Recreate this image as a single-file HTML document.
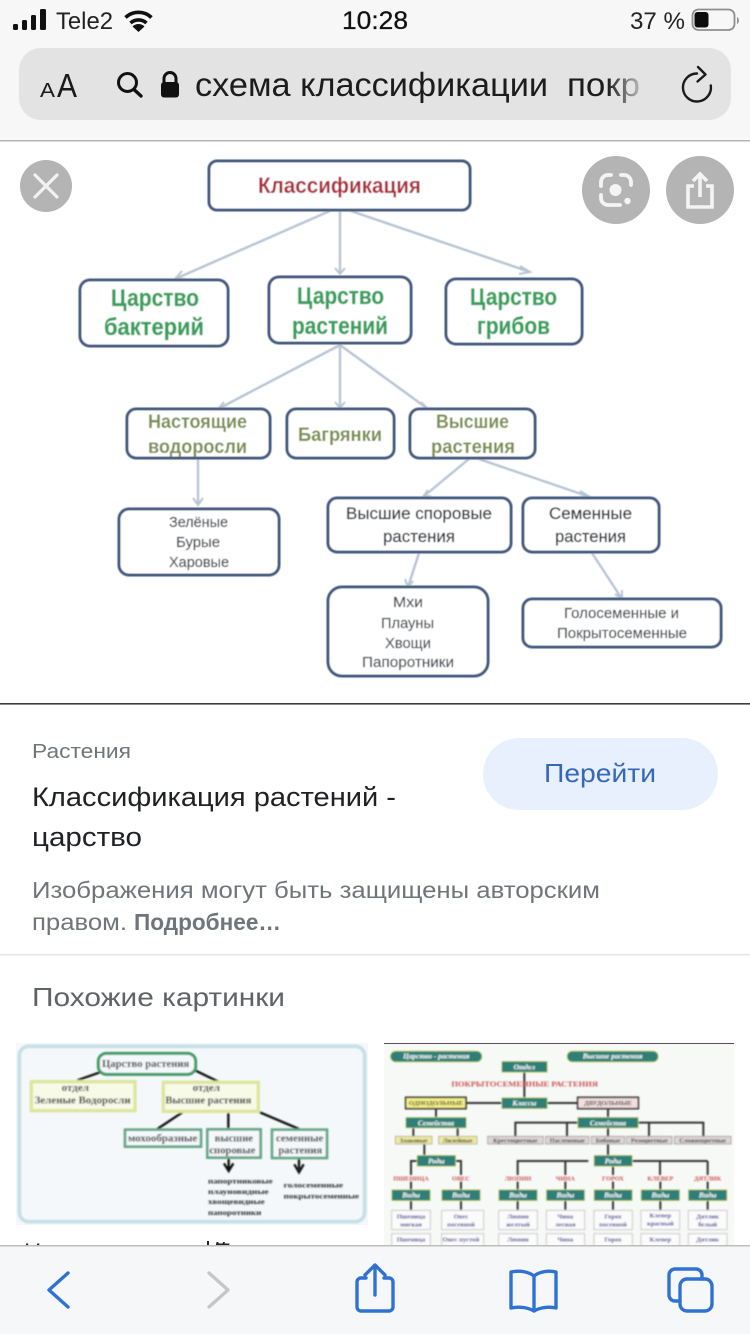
<!DOCTYPE html>
<html><head><meta charset="utf-8"><style>
html,body{margin:0;padding:0;background:#fff;width:750px;height:1334px;overflow:hidden}
svg{display:block;font-family:"Liberation Sans",sans-serif}
</style></head><body>
<svg width="750" height="1334" viewBox="0 0 750 1334" xmlns="http://www.w3.org/2000/svg">
<defs>
<filter id="b1" x="-5%" y="-5%" width="110%" height="110%"><feGaussianBlur stdDeviation="0.6"/></filter>
<filter id="b2" x="-5%" y="-5%" width="110%" height="110%"><feGaussianBlur stdDeviation="2.2"/></filter>
<linearGradient id="fade" x1="0" x2="1" y1="0" y2="0"><stop offset="0.55" stop-color="#1c1c1c"/><stop offset="1" stop-color="#b8b8b8"/></linearGradient>
<clipPath id="cr"><rect x="384" y="1043" width="350" height="202"/></clipPath>
</defs>
<rect width="750" height="1334" fill="#fff"/>

<!-- browser header -->
<rect width="750" height="140" fill="#f7f7f7"/>
<rect y="140" width="750" height="1.5" fill="#b4b4b4"/>
<g fill="#111">
<rect x="13" y="24" width="5" height="6" rx="1.5"/><rect x="22" y="20" width="5" height="10" rx="1.5"/><rect x="31" y="15" width="5" height="15" rx="1.5"/><rect x="40" y="9" width="6" height="21" rx="1.5"/>
<text x="56" y="29" font-size="24" textLength="57" lengthAdjust="spacingAndGlyphs" fill="#222">Tele2</text>
<text x="342" y="29" font-size="25" textLength="66" lengthAdjust="spacingAndGlyphs" stroke="#111" stroke-width=".3">10:28</text>
<text x="630" y="29" font-size="24" textLength="55" lengthAdjust="spacingAndGlyphs" fill="#222">37 %</text>
<path d="M132.500 26.500a8.500 8.500 0 0 1 12 0L138.500 32z"/>
</g>
<g fill="none" stroke="#111" stroke-width="3.600">
<path d="M125.500 17.500a19 19 0 0 1 26 0"/><path d="M130.500 23a12 12 0 0 1 16 0"/>
</g>
<rect x="692.500" y="9.500" width="42" height="20.500" rx="6" fill="none" stroke="#8e8e8e" stroke-width="1.800"/>
<rect x="694.500" y="12" width="14" height="15.500" rx="3" fill="#0c0c0c"/>
<path d="M737 17c2.500 1 2.500 6 0 7z" fill="#8e8e8e"/>

<rect x="19" y="48" width="712" height="72" rx="22" fill="#e3e3e3"/>
<text x="40" y="97" font-size="20" textLength="15" lengthAdjust="spacingAndGlyphs" fill="#1a1a1a">A</text>
<text x="57" y="97" font-size="33" textLength="20" lengthAdjust="spacingAndGlyphs" fill="#1a1a1a">A</text>
<circle cx="127.500" cy="82.500" r="9" fill="none" stroke="#111" stroke-width="3"/>
<path d="M134 89.500l7 6.500" stroke="#111" stroke-width="3.400" stroke-linecap="round"/>
<path d="M164 83v-4.500a6 6 0 0 1 12 0v4.500" fill="none" stroke="#111" stroke-width="3"/>
<rect x="161" y="82" width="18" height="15.500" rx="3" fill="#111"/>
<text x="195" y="96" font-size="33" textLength="353" lengthAdjust="spacingAndGlyphs" fill="#1c1c1c">схема классификации</text>
<text x="567" y="96" font-size="33" textLength="73" lengthAdjust="spacingAndGlyphs" fill="url(#fade)">покр</text>
<path d="M697 73.500a14 14 0 1 0 13.800 12" fill="none" stroke="#1a1a1a" stroke-width="2.400" stroke-linecap="round"/>
<path d="M698 67l7.500 7.500-8 7" fill="none" stroke="#1a1a1a" stroke-width="2.400" stroke-linejoin="round" stroke-linecap="round"/>

<!-- main diagram -->
<g filter="url(#b1)">
<g stroke="#b8c5d6" stroke-width="2.400" fill="none">
<path d="M332 210L175 279M340 210V274M348 210L530 272"/>
<path d="M340 345L218 409M340 345V408M340 345L428 409"/>
<path d="M198 458V505"/>
<path d="M470 458L423 497M476 458L590 497"/>
<path d="M419 553L408 587M592 553L622 599"/>
</g>
<g fill="none" stroke="#b8c5d6" stroke-width="2">
<path d="M182 271L175 279L186 279M335 268L340 274L345 268M520 266L530 272L519 274"/>
<path d="M224 402L218 409L228 408M335 402L340 408L345 402M421 402L428 409L418 409"/>
<path d="M193 498L198 505L203 498M428 490L423 497L431 496M580 491L590 497L580 497"/>
<path d="M405 579L408 587L413 581M622 590L622 599L615 594"/>
</g>
<g fill="#fff" stroke="#43587f" stroke-width="3">
<rect x="209" y="161" width="261" height="49" rx="8"/>
<rect x="80" y="280" width="148" height="66" rx="10"/>
<rect x="269" y="277" width="142" height="66" rx="10"/>
<rect x="446" y="279" width="136" height="65" rx="10"/>
<rect x="127" y="409" width="143" height="49" rx="9"/>
<rect x="287" y="409" width="107" height="49" rx="9"/>
<rect x="410" y="409" width="125" height="49" rx="9"/>
<rect x="328" y="498" width="183" height="54" rx="9"/>
<rect x="523" y="498" width="136" height="54" rx="9"/>
<rect x="119" y="509" width="160" height="66" rx="10"/>
<rect x="328" y="587" width="160" height="89" rx="14"/>
<rect x="523" y="599" width="198" height="48" rx="9"/>
</g>
<text x="258" y="193" font-size="22" font-weight="bold" fill="#ac2f3c" textLength="163" lengthAdjust="spacingAndGlyphs">Классификация</text>
<g font-weight="bold" fill="#38a05c" stroke="#38a05c" stroke-width=".3" font-size="24">
<text x="111" y="306" textLength="88" lengthAdjust="spacingAndGlyphs">Царство</text>
<text x="104" y="335" textLength="100" lengthAdjust="spacingAndGlyphs">бактерий</text>
<text x="297" y="304" textLength="87" lengthAdjust="spacingAndGlyphs">Царство</text>
<text x="292" y="334" textLength="96" lengthAdjust="spacingAndGlyphs">растений</text>
<text x="470" y="305" textLength="87" lengthAdjust="spacingAndGlyphs">Царство</text>
<text x="477" y="334" textLength="73" lengthAdjust="spacingAndGlyphs">грибов</text>
</g>
<g font-weight="bold" fill="#7a8f50" font-size="19.500">
<text x="148" y="428" textLength="99" lengthAdjust="spacingAndGlyphs">Настоящие</text>
<text x="148" y="453" textLength="99" lengthAdjust="spacingAndGlyphs">водоросли</text>
<text x="298" y="441" textLength="84" lengthAdjust="spacingAndGlyphs">Багрянки</text>
<text x="436" y="428" textLength="73" lengthAdjust="spacingAndGlyphs">Высшие</text>
<text x="431" y="453" textLength="84" lengthAdjust="spacingAndGlyphs">растения</text>
</g>
<g fill="#30353c" stroke="#30353c" stroke-width=".25" font-size="17">
<text x="346" y="519" textLength="146" lengthAdjust="spacingAndGlyphs">Высшие споровые</text>
<text x="383" y="542" textLength="72" lengthAdjust="spacingAndGlyphs">растения</text>
<text x="549" y="519" textLength="83" lengthAdjust="spacingAndGlyphs">Семенные</text>
<text x="555" y="542" textLength="71" lengthAdjust="spacingAndGlyphs">растения</text>
</g>
<g fill="#484d53" stroke="#484d53" stroke-width=".2" font-size="15">
<text x="169" y="527" textLength="59" lengthAdjust="spacingAndGlyphs">Зелёные</text>
<text x="176" y="547" textLength="44" lengthAdjust="spacingAndGlyphs">Бурые</text>
<text x="169" y="567" textLength="60" lengthAdjust="spacingAndGlyphs">Харовые</text>
<text x="393" y="607" textLength="30" lengthAdjust="spacingAndGlyphs">Мхи</text>
<text x="381" y="628" textLength="53" lengthAdjust="spacingAndGlyphs">Плауны</text>
<text x="385" y="648" textLength="46" lengthAdjust="spacingAndGlyphs">Хвощи</text>
<text x="362" y="667" textLength="92" lengthAdjust="spacingAndGlyphs">Папоротники</text>
<text x="564" y="618" textLength="115" lengthAdjust="spacingAndGlyphs">Голосеменные и</text>
<text x="557" y="638" textLength="130" lengthAdjust="spacingAndGlyphs">Покрытосеменные</text>
</g>
</g>

<!-- overlay buttons -->
<circle cx="46" cy="186" r="26" fill="#b4b4b4"/>
<path d="M35 175L57 197M57 175L35 197" stroke="#f2f2f2" stroke-width="3.200" stroke-linecap="round"/>
<circle cx="616" cy="190" r="34" fill="#b4b4b4"/>
<circle cx="700" cy="190" r="34" fill="#b4b4b4"/>
<g fill="none" stroke="#f4f4f4" stroke-width="3.800" stroke-linecap="round">
<path d="M601 186v-4a7 7 0 0 1 7-7h3M621 175h3a7 7 0 0 1 7 7v3M620 205h-12a7 7 0 0 1-7-7v-3"/>
</g>
<circle cx="615.500" cy="190" r="6" fill="#f4f4f4"/>
<circle cx="627.500" cy="201" r="3.200" fill="#f4f4f4"/>
<g fill="none" stroke="#f4f4f4" stroke-width="3.600">
<path d="M694 186h-6v21h24v-21h-6"/>
<path d="M700 197V174M693 181l7-7 7 7"/>
</g>

<!-- info -->
<rect y="703" width="750" height="1.600" fill="#3c3c3c"/>
<text x="32" y="758" font-size="20" fill="#70757a" textLength="99" lengthAdjust="spacingAndGlyphs">Растения</text>
<text x="32" y="806" font-size="27" fill="#202124" textLength="364" lengthAdjust="spacingAndGlyphs">Классификация растений -</text>
<text x="32" y="846" font-size="27" fill="#202124" textLength="110" lengthAdjust="spacingAndGlyphs">царство</text>
<rect x="483" y="738" width="235" height="72" rx="36" fill="#e8f0fe"/>
<text x="544" y="782" font-size="26" fill="#3568b8" textLength="112" lengthAdjust="spacingAndGlyphs">Перейти</text>
<text x="32" y="898" font-size="23" fill="#70757a" textLength="568" lengthAdjust="spacingAndGlyphs">Изображения могут быть защищены авторским</text>
<text x="32" y="930" font-size="23" fill="#70757a" textLength="95" lengthAdjust="spacingAndGlyphs">правом.</text>
<text x="134" y="930" font-size="23" font-weight="bold" fill="#70757a" textLength="147" lengthAdjust="spacingAndGlyphs">Подробнее…</text>
<rect y="954" width="750" height="1.500" fill="#e6e6e6"/>
<text x="32" y="1006" font-size="26" fill="#5f6368" textLength="253" lengthAdjust="spacingAndGlyphs">Похожие картинки</text>

<!-- left thumbnail -->
<rect x="16" y="1043" width="352" height="182" fill="#f5f8fa"/>
<g transform="translate(0 1035) scale(.33333)" filter="url(#b2)" font-family="Liberation Serif" font-weight="bold" fill="#2a2a2a">
<rect x="58" y="34" width="1036" height="526" rx="28" fill="none" stroke="#c6dfe6" stroke-width="11"/>
<g stroke="#111" stroke-width="7" fill="none">
<path d="M232 136L300 112M585 106L655 140M550 230L472 282M685 230V282M775 230L897 282"/>
<path d="M686 368V400M672 385L686 408L700 385M897 370V402M883 388L897 412L911 388"/>
</g>
<rect x="295" y="55" width="292" height="63" rx="24" fill="#f5f8fa" stroke="#3f9a66" stroke-width="9"/>
<g fill="#f8fae8" stroke="#dde59a" stroke-width="10">
<rect x="94" y="140" width="311" height="87"/><rect x="490" y="142" width="285" height="87"/>
</g>
<g fill="#f5f8fa" stroke="#63a585" stroke-width="8">
<rect x="375" y="284" width="228" height="51"/><rect x="622" y="283" width="160" height="85"/><rect x="816" y="284" width="165" height="85"/>
</g>
<g font-size="31">
<text x="306" y="96" textLength="262" lengthAdjust="spacingAndGlyphs">Царство растения</text>
<text x="185" y="168" textLength="82" lengthAdjust="spacingAndGlyphs">отдел</text>
<text x="104" y="206" textLength="288" lengthAdjust="spacingAndGlyphs">Зеленые Водоросли</text>
<text x="578" y="168" textLength="82" lengthAdjust="spacingAndGlyphs">отдел</text>
<text x="496" y="206" textLength="258" lengthAdjust="spacingAndGlyphs">Высшие растения</text>
<text x="384" y="320" textLength="208" lengthAdjust="spacingAndGlyphs">мохообразные</text>
<text x="644" y="320" textLength="115" lengthAdjust="spacingAndGlyphs">высшие</text>
<text x="628" y="356" textLength="138" lengthAdjust="spacingAndGlyphs">споровые</text>
<text x="828" y="320" textLength="142" lengthAdjust="spacingAndGlyphs">семенные</text>
<text x="835" y="356" textLength="132" lengthAdjust="spacingAndGlyphs">растения</text>
</g>
<g font-size="21">
<text x="624" y="445" textLength="194" lengthAdjust="spacingAndGlyphs">папортниковые</text>
<text x="624" y="477" textLength="182" lengthAdjust="spacingAndGlyphs">плауновидные</text>
<text x="624" y="507" textLength="170" lengthAdjust="spacingAndGlyphs">хвощевидные</text>
<text x="624" y="540" textLength="160" lengthAdjust="spacingAndGlyphs">папоротники</text>
<text x="851" y="457" textLength="178" lengthAdjust="spacingAndGlyphs">голосеменные</text>
<text x="851" y="490" textLength="226" lengthAdjust="spacingAndGlyphs">покрытосеменные</text>
</g>
</g>

<!-- right thumbnail -->
<rect x="384" y="1043" width="350" height="202" fill="#f7f9f7"/>
<rect x="384" y="1043" width="350" height="1" fill="#5a4a55"/>
<g clip-path="url(#cr)">
<g transform="translate(375 1035) scale(.33333)" filter="url(#b2)" font-family="Liberation Serif" font-weight="bold">
<g stroke="#333" stroke-width="6" fill="none">
<path d="M448 112V188M275 204H380M517 204H606M183 222V248M699 222V248"/>
<path d="M115 278V304M248 278V304M421 304V263H985V304M576 263V304M699 278V304M822 263V304"/>
<path d="M148 328V362M699 328V362M108 420V378H126M258 420V378H242M428 420V378H640M571 378V420M714 378V420M855 378V420M998 378V420M770 378H998"/>
<path d="M108 440V464M258 440V464M428 440V464M571 440V464M714 440V464M856 440V464M998 440V464"/>
<path d="M108 497V525M258 497V525M428 497V525M571 497V525M714 497V525M856 497V525M998 497V525"/>
</g>
<g fill="#2e7f78" stroke="#d5e06a" stroke-width="2">
<rect x="46" y="48" width="275" height="33" rx="16"/><rect x="576" y="48" width="274" height="33" rx="16"/>
<rect x="380" y="79" width="137" height="33"/><rect x="380" y="188" width="137" height="33"/>
<rect x="92" y="247" width="182" height="32"/><rect x="608" y="247" width="182" height="32"/>
<rect x="126" y="361" width="116" height="33"/><rect x="657" y="361" width="115" height="33"/>
<rect x="50" y="464" width="116" height="33"/><rect x="200" y="464" width="116" height="33"/><rect x="371" y="464" width="116" height="33"/><rect x="514" y="464" width="115" height="33"/><rect x="657" y="464" width="115" height="33"/><rect x="798" y="464" width="116" height="33"/><rect x="940" y="464" width="116" height="33"/>
</g>
<g fill="#fff" font-style="italic" font-size="22" text-anchor="middle">
<text x="184" y="71">Царство - растения</text><text x="713" y="71">Высшие растения</text>
<text x="448" y="103">Отдел</text><text x="448" y="212">Классы</text>
<text x="183" y="271">Семейства</text><text x="699" y="271">Семейства</text>
<text x="184" y="385">Роды</text><text x="714" y="385">Роды</text>
<text x="108" y="488">Виды</text><text x="258" y="488">Виды</text><text x="429" y="488">Виды</text><text x="571" y="488">Виды</text><text x="714" y="488">Виды</text><text x="856" y="488">Виды</text><text x="998" y="488">Виды</text>
</g>
<text x="229" y="155" font-size="23" fill="#c95050" textLength="440" lengthAdjust="spacingAndGlyphs">ПОКРЫТОСЕМЕННЫЕ  РАСТЕНИЯ</text>
<rect x="92" y="187" width="181" height="34" fill="#f7f28a" stroke="#333" stroke-width="5"/>
<rect x="608" y="187" width="182" height="34" fill="#f2dede" stroke="#333" stroke-width="5"/>
<g font-size="20" text-anchor="middle" fill="#333">
<text x="183" y="210">ОДНОДОЛЬНЫЕ</text><text x="699" y="210">ДВУДОЛЬНЫЕ</text>
</g>
<g fill="#efe9a0" stroke="#999" stroke-width="2">
<rect x="61" y="304" width="110" height="23"/><rect x="191" y="304" width="115" height="23"/>
</g>
<g fill="#ddd5d5" stroke="#888" stroke-width="2">
<rect x="338" y="304" width="167" height="23"/><rect x="512" y="304" width="130" height="23"/><rect x="649" y="304" width="100" height="23"/><rect x="755" y="304" width="136" height="23"/><rect x="898" y="304" width="170" height="23"/>
</g>
<g font-size="19" fill="#333" text-anchor="middle">
<text x="116" y="322">Злаковые</text><text x="248" y="322">Лилейные</text><text x="421" y="322">Крестоцветные</text><text x="577" y="322">Пасленовые</text><text x="699" y="322">Бобовые</text><text x="823" y="322">Розоцветные</text><text x="983" y="322">Сложноцветные</text>
</g>
<g font-size="19" fill="#c95050" text-anchor="middle">
<text x="108" y="436">ПШЕНИЦА</text><text x="258" y="436">ОВЕС</text><text x="429" y="436">ЛЮПИН</text><text x="571" y="436">ЧИНА</text><text x="714" y="436">ГОРОХ</text><text x="856" y="436">КЛЕВЕР</text><text x="998" y="436">ДЯТЛИК</text>
</g>
<g fill="#fbfbfb" stroke="#c8c8c8" stroke-width="3">
<rect x="50" y="526" width="116" height="58"/><rect x="200" y="526" width="126" height="58"/><rect x="371" y="526" width="116" height="58"/><rect x="514" y="526" width="115" height="58"/><rect x="657" y="526" width="115" height="58"/><rect x="798" y="526" width="116" height="58"/><rect x="940" y="526" width="116" height="58"/>
<rect x="50" y="596" width="116" height="58"/><rect x="200" y="596" width="126" height="58"/><rect x="371" y="596" width="116" height="58"/><rect x="514" y="596" width="115" height="58"/><rect x="657" y="596" width="115" height="58"/><rect x="798" y="596" width="116" height="58"/><rect x="940" y="596" width="116" height="58"/>
</g>
<g font-size="20" fill="#3b3a94" text-anchor="middle">
<text x="108" y="550">Пшеница</text><text x="108" y="574">мягкая</text>
<text x="258" y="550">Овес</text><text x="258" y="574">посевной</text>
<text x="429" y="550">Люпин</text><text x="429" y="574">желтый</text>
<text x="571" y="550">Чина</text><text x="571" y="574">лесная</text>
<text x="714" y="550">Горох</text><text x="714" y="574">посевной</text>
<text x="856" y="548">Клевер</text><text x="856" y="572">красный</text>
<text x="998" y="550">Дятлик</text><text x="998" y="574">белый</text>
<text x="108" y="620">Пшеница</text><text x="258" y="620">Овес пустой</text><text x="429" y="620">Люпин</text><text x="571" y="620">Чина</text><text x="714" y="620">Горох</text><text x="856" y="620">Клевер</text><text x="998" y="620">Дятлик</text>
</g>
</g>
</g>

<!-- clipped caption -->
<text x="24" y="1260" font-size="24" fill="#222">Царство растений</text>
<rect x="207" y="1241" width="2" height="8" fill="#222"/>
<text x="214" y="1260" font-size="24" fill="#222">П</text>

<!-- toolbar -->
<rect y="1245" width="750" height="89" fill="#f6f7f8"/>
<rect y="1245" width="750" height="1.500" fill="#bdbdbd"/>
<g fill="none" stroke-width="3.400" stroke-linecap="round" stroke-linejoin="round">
<path d="M68 1273L49 1290L68 1307" stroke="#2f72d4"/>
<path d="M209 1273L228 1290L209 1307" stroke="#c6c6c6"/>
<g stroke="#2f72d4">
<path d="M366 1278h-5a4 4 0 0 0-4 4v25a4 4 0 0 0 4 4h28a4 4 0 0 0 4-4v-25a4 4 0 0 0-4-4h-5"/>
<path d="M375 1295V1266M365 1275l10-10 10 10"/>
<path d="M534 1276c-5-4-14-6-23-4v36c9-2 18 0 23 3 5-3 14-5 22-3v-36c-8-2-17 0-22 4z"/>
<path d="M534 1276v34"/>
<path d="M680 1301h-5a6 6 0 0 1-6-6v-20a6 6 0 0 1 6-6h21a6 6 0 0 1 6 6v4"/>
<rect x="680" y="1279" width="32" height="32" rx="7"/>
</g>
</g>
</svg>
</body></html>
